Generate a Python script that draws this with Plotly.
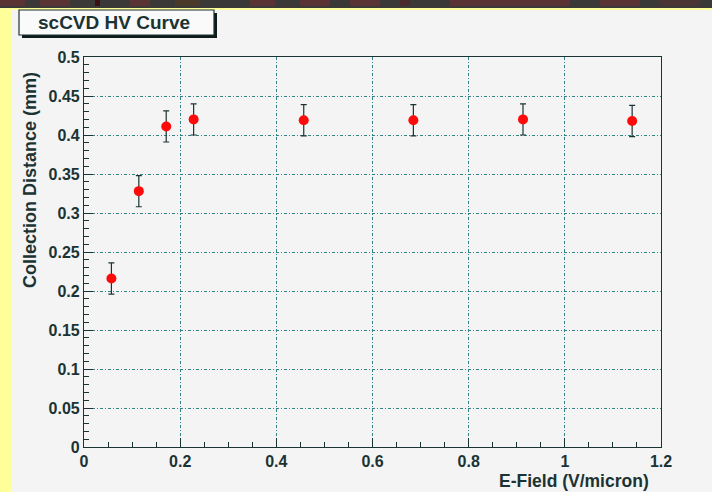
import plotly.graph_objects as go

# Measured collection distance vs applied field
e_field = [0.057, 0.114, 0.171, 0.228, 0.457, 0.685, 0.913, 1.140]
coll_dist = [0.216, 0.328, 0.411, 0.420, 0.419, 0.419, 0.420, 0.418]
coll_err = [0.020, 0.020, 0.020, 0.020, 0.020, 0.020, 0.020, 0.020]

x_ticks = [0, 0.2, 0.4, 0.6, 0.8, 1.0, 1.2]
x_labels = ["0", "0.2", "0.4", "0.6", "0.8", "1", "1.2"]
y_ticks = [0, 0.05, 0.1, 0.15, 0.2, 0.25, 0.3, 0.35, 0.4, 0.45, 0.5]
y_labels = ["0", "0.05", "0.1", "0.15", "0.2", "0.25", "0.3", "0.35", "0.4", "0.45", "0.5"]

W, H = 712, 492
L, R, T, B = 84, 661, 57, 447  # frame edges in pixels

def fx(p):
    return (p - L) / (R - L)

def fy(p):
    return (B - p) / (B - T)

ink = "#1b3333"
grid = "#2f8585"
bg = "#f4f4f4"
FONT = "Liberation Sans, Arial, sans-serif"

fig = go.Figure()
fig.add_trace(go.Scatter(
    x=e_field, y=coll_dist, mode="markers",
    marker=dict(color="#ff0a0a", size=10, symbol="circle"),
    error_y=dict(type="data", array=coll_err, thickness=1.2, width=3, color=ink),
    showlegend=False,
))

tickfont = dict(family=FONT, size=16, color=ink, weight="bold")
axis_common = dict(
    showline=True, linecolor=ink, linewidth=1.2, mirror=True,
    ticks="inside", tickcolor=ink, tickwidth=1,
    showgrid=True, gridcolor=grid, griddash="3px,2px,1px,2px", gridwidth=1,
    zeroline=False, tickfont=tickfont,
)

fig.update_xaxes(range=[0, 1.2], tickvals=x_ticks, ticktext=x_labels, ticklen=9,
                 minor=dict(dtick=0.05, ticklen=5, ticks="inside", tickcolor=ink, showgrid=False),
                 **axis_common)
fig.update_yaxes(range=[0, 0.5], tickvals=y_ticks, ticktext=y_labels, ticklen=9,
                 minor=dict(dtick=0.01, ticklen=5, ticks="inside", tickcolor=ink, showgrid=False),
                 **axis_common)

shapes = []
# dark strip along the top edge
shapes.append(dict(type="rect", xref="paper", yref="paper", x0=fx(0), x1=fx(W), y0=fy(0), y1=fy(8),
                   fillcolor="#3b3838", line=dict(width=0), layer="below"))
for a, b, c in [(0, 25, "#5a3434"), (40, 70, "#5a3434"), (95, 100, "#3a1010"), (130, 150, "#5a3434"),
                (175, 200, "#4a3a2a"), (250, 275, "#5a3434"), (300, 330, "#5a3434"),
                (350, 380, "#5a3434"), (400, 410, "#4a2a2a"), (450, 570, "#5a3434"),
                (600, 640, "#5a3434"), (660, 700, "#4a3434")]:
    shapes.append(dict(type="rect", xref="paper", yref="paper", x0=fx(a), x1=fx(b), y0=fy(0), y1=fy(6),
                       fillcolor=c, line=dict(width=0), layer="below"))
# yellow border strips
shapes.append(dict(type="rect", xref="paper", yref="paper", x0=fx(0), x1=fx(W), y0=fy(8), y1=fy(10),
                   fillcolor="#ffff99", line=dict(width=0), layer="below"))
shapes.append(dict(type="rect", xref="paper", yref="paper", x0=fx(0), x1=fx(11), y0=fy(8), y1=fy(H),
                   fillcolor="#ffff99", line=dict(width=0), layer="below"))
# title box with drop shadow
shapes.append(dict(type="rect", xref="paper", yref="paper", x0=fx(22), x1=fx(217), y0=fy(13), y1=fy(38),
                   fillcolor="#0d1a1a", line=dict(width=0)))
shapes.append(dict(type="rect", xref="paper", yref="paper", x0=fx(19), x1=fx(214), y0=fy(10), y1=fy(35),
                   fillcolor="#fafafa", line=dict(color=ink, width=1.2)))

annotations = [
    dict(text="scCVD HV Curve", xref="paper", yref="paper", x=fx(114), y=fy(22.5),
         showarrow=False, xanchor="center", yanchor="middle",
         font=dict(family=FONT, size=19, color=ink, weight="bold")),
    dict(text="E-Field (V/micron)", xref="paper", yref="paper", x=fx(651), y=fy(481),
         showarrow=False, xanchor="right", yanchor="middle",
         font=dict(family=FONT, size=17.5, color=ink, weight="bold")),
    dict(text="Collection Distance (mm)", xref="paper", yref="paper", x=fx(30), y=fy(180),
         showarrow=False, xanchor="center", yanchor="middle", textangle=-90,
         font=dict(family=FONT, size=18, color=ink, weight="bold")),
]

fig.update_layout(
    width=W, height=H,
    margin=dict(l=L, r=W - R, t=T, b=H - B, pad=0),
    paper_bgcolor=bg, plot_bgcolor=bg,
    shapes=shapes, annotations=annotations,
    showlegend=False,
)

fig.write_html("out.html")
